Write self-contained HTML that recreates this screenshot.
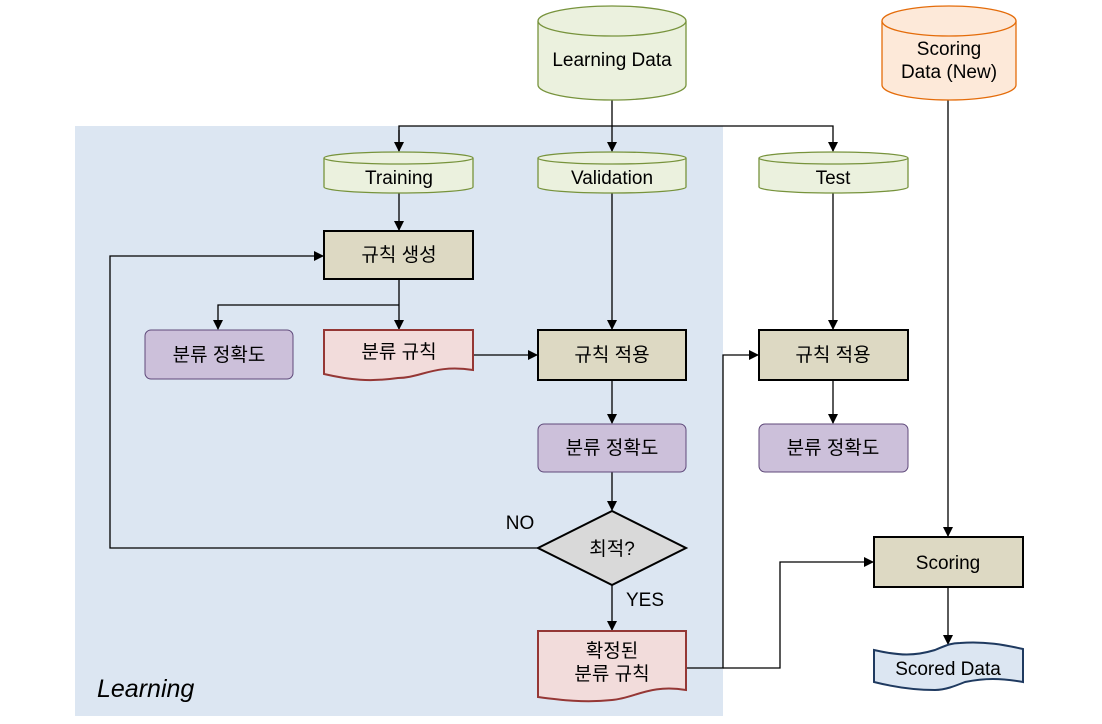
<!DOCTYPE html>
<html><head><meta charset="utf-8"><style>body{margin:0;background:#fff}svg{display:block}text{font-family:"Liberation Sans","Noto Sans CJK KR",sans-serif;font-size:19px;fill:#000}</style></head><body>
<svg width="1102" height="724" viewBox="0 0 1102 724" xmlns="http://www.w3.org/2000/svg">
<defs><marker id="a" markerWidth="10" markerHeight="10" refX="9" refY="5" orient="auto" markerUnits="userSpaceOnUse"><path d="M0,0 L10,5 L0,10z" fill="#000"/></marker></defs>
<rect x="75" y="126" width="648" height="590" fill="#dce6f2"/>
<text x="97" y="697" style="font-size:25px;font-style:italic">Learning</text>
<g stroke="#000" stroke-width="1.3" fill="none">
<path d="M612,100 V151" marker-end="url(#a)"/>
<path d="M399,151 V126 H833 V151" marker-end="url(#a)"/>
<path d="M399,130 V151" marker-end="url(#a)"/>
<path d="M399,193 V230" marker-end="url(#a)"/>
<path d="M399,279 V329" marker-end="url(#a)"/>
<path d="M399,305 H218 V329" marker-end="url(#a)"/>
<path d="M473,355 H537" marker-end="url(#a)"/>
<path d="M612,193 V329" marker-end="url(#a)"/>
<path d="M612,380 V423" marker-end="url(#a)"/>
<path d="M612,472 V510" marker-end="url(#a)"/>
<path d="M538,548 H110 V256 H323" marker-end="url(#a)"/>
<path d="M612,585 V630" marker-end="url(#a)"/>
<path d="M686,668 H723 V355 H758" marker-end="url(#a)"/>
<path d="M723,668 H780 V562 H873" marker-end="url(#a)"/>
<path d="M833,193 V329" marker-end="url(#a)"/>
<path d="M833,380 V423" marker-end="url(#a)"/>
<path d="M948,100 V536" marker-end="url(#a)"/>
<path d="M948,587 V644" marker-end="url(#a)"/>
</g>
<g stroke="#77933c" stroke-width="1.3" fill="#ebf1de">
<path d="M538,21 V85 A74,15 0 0 0 686,85 V21"/>
<ellipse cx="612" cy="21" rx="74" ry="15"/>
<path d="M324,158 V187 A74.5,6 0 0 0 473,187 V158"/><ellipse cx="398.5" cy="158" rx="74.5" ry="6"/>
<path d="M538,158 V187 A74,6 0 0 0 686,187 V158"/><ellipse cx="612" cy="158" rx="74" ry="6"/>
<path d="M759,158 V187 A74.5,6 0 0 0 908,187 V158"/><ellipse cx="833.5" cy="158" rx="74.5" ry="6"/>
</g>
<g stroke="#e46c0a" stroke-width="1.3" fill="#fde9d9">
<path d="M882,21 V85 A67,15 0 0 0 1016,85 V21"/><ellipse cx="949" cy="21" rx="67" ry="15"/>
</g>
<g stroke="#000" stroke-width="2" fill="#ddd9c3">
<rect x="324" y="231" width="149" height="48"/>
<rect x="538" y="330" width="148" height="50"/>
<rect x="759" y="330" width="149" height="50"/>
<rect x="874" y="537" width="149" height="50"/>
</g>
<g stroke="#5f497a" stroke-width="1" fill="#ccc0da">
<rect x="145" y="330" width="148" height="49" rx="6"/>
<rect x="538" y="424" width="148" height="48" rx="6"/>
<rect x="759" y="424" width="149" height="48" rx="6"/>
</g>
<path d="M538,548 L612,511 L686,548 L612,585Z" fill="#d9d9d9" stroke="#000" stroke-width="2"/>
<g stroke="#953735" stroke-width="2" fill="#f2dcdb">
<path d="M324,330 H473 V370 C435,364 420,378 398,378 C370,382 350,380 324,374Z"/>
<path d="M538,631 H686 V690 C650,684 635,698 612,700 C585,703 560,700 538,697Z"/>
</g>
<path d="M874,650 C900,656 915,656 935,650 C945,646 950,643 960,643 C985,641 1005,645 1023,649 V682 C1000,678 985,678 965,682 C955,686 945,690 935,690 C910,690 890,686 874,682Z" fill="#dce6f2" stroke="#1f3a60" stroke-width="2"/>
<g text-anchor="middle">
<text x="612" y="66">Learning Data</text>
<text x="949" y="55">Scoring</text><text x="949" y="78">Data (New)</text>
<text x="399" y="184">Training</text>
<text x="612" y="184">Validation</text>
<text x="833" y="184">Test</text>
<text x="399" y="261">규칙 생성</text>
<text x="219" y="361">분류 정확도</text>
<text x="399" y="358">분류 규칙</text>
<text x="612" y="361">규칙 적용</text>
<text x="833" y="361">규칙 적용</text>
<text x="612" y="454">분류 정확도</text>
<text x="833" y="454">분류 정확도</text>
<text x="612" y="555">최적?</text>
<text x="612" y="657">확정된</text><text x="612" y="680">분류 규칙</text>
<text x="948" y="569">Scoring</text>
<text x="948" y="675">Scored Data</text>
<text x="520" y="529">NO</text>
<text x="645" y="606">YES</text>
</g>
</svg>
</body></html>
